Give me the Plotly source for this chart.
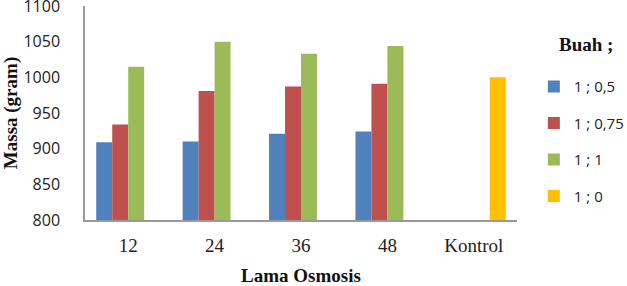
import plotly.graph_objects as go

categories = ["12", "24", "36", "48", "Kontrol"]
series_names = ["1 ; 0,5", "1 ; 0,75", "1 ; 1", "1 ; 0"]
s_05 = [909, 910, 921, 924, None]
s_075 = [934, 981, 987, 991, None]
s_1 = [1015, 1050, 1033, 1044, None]
s_0 = [None, None, None, None, 1000]
colors = ["#4F81BD", "#C0504D", "#9BBB59", "#FFC000"]
y_ticks = [800, 850, 900, 950, 1000, 1050, 1100]

fig = go.Figure()
for i, (name, vals) in enumerate(zip(series_names, [s_05, s_075, s_1, s_0])):
    fig.add_trace(go.Bar(x=categories, y=vals, name=name, marker_color=colors[i],
                         marker_line_width=0, legendgroup=f"g{i}"))

serif = "Liberation Serif, Times New Roman, serif"
sans = "Open Sans, Liberation Sans, sans-serif"

fig.update_layout(
    width=627, height=286,
    margin=dict(l=85, r=110, t=6, b=66, autoexpand=False),
    paper_bgcolor="white", plot_bgcolor="white",
    barmode="group", bargap=0.26, bargroupgap=0,
    showlegend=True,
    legend=dict(x=1.039, y=0.70, xanchor="left", yanchor="top",
                font=dict(family=sans, size=15, color="#222"),
                traceorder="grouped", tracegroupgap=14, itemwidth=30,
                bgcolor="rgba(0,0,0,0)"),
    xaxis=dict(showline=True, linecolor="#999", linewidth=1.5, ticks="", automargin=False,
               tickfont=dict(family=serif, size=19, color="#222"),
               ticklabelstandoff=7,
               title=dict(text="<b>Lama Osmosis</b>", standoff=16,
                          font=dict(family=serif, size=19, color="#111"))),
    yaxis=dict(range=[800, 1100], tickvals=y_ticks, showline=True, linecolor="#999", linewidth=1.5,
               showgrid=False, ticks="", zeroline=False, ticklabeloverflow="allow", automargin=False,
               tickfont=dict(family=sans, size=16, color="#222"),
               ticklabelstandoff=20,
               title=dict(text="<b>Massa (gram)</b>", standoff=4,
                          font=dict(family=serif, size=19, color="#111"))),
    annotations=[dict(text="<b>Buah ;</b>", xref="paper", yref="paper", x=1.093, y=0.818,
                      xanchor="left", yanchor="middle", showarrow=False,
                      font=dict(family=serif, size=19, color="#111"))],
)

fig.write_html("out.html")
